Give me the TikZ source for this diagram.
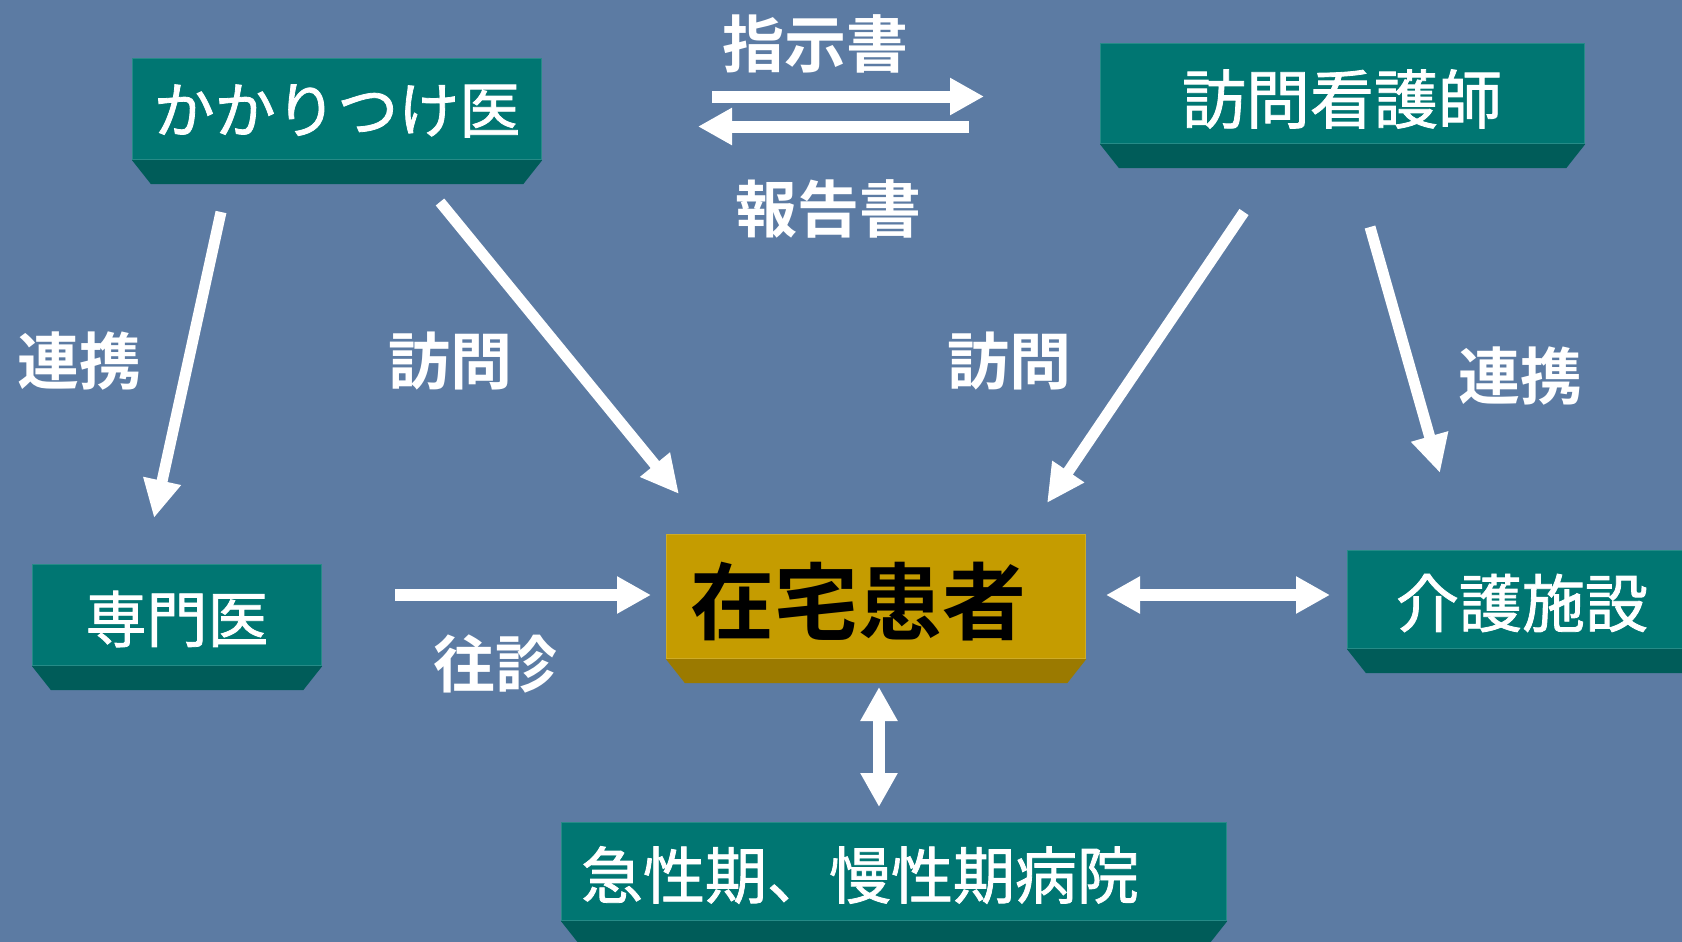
\documentclass[tikz,border=0pt]{standalone}
\usepackage{fontspec}
\newfontfamily\jp{Noto Sans CJK JP}[BoldFont={* Bold}]
\newfontfamily\jpm{Noto Sans CJK JP}[FakeBold=1.3]
\usetikzlibrary{arrows.meta,calc}
\definecolor{bg}{RGB}{92,123,163}
\definecolor{tealfront}{RGB}{0,118,114}
\definecolor{tealside}{RGB}{0,92,89}
\definecolor{goldfront}{RGB}{197,156,0}
\definecolor{goldside}{RGB}{155,122,0}
\tikzset{
  tealbox/.style={rectangle, fill=tealfront, draw=tealfront!85!white, line width=0.6pt, anchor=north west, inner sep=0pt},
  goldbox/.style={rectangle, fill=goldfront, draw=goldfront!85!white, line width=0.6pt, anchor=north west, inner sep=0pt},
  boxtext/.style={text=white, inner sep=0pt, font=\jpm\fontsize{30.5pt}{30.5pt}\selectfont},
  bigtext/.style={text=black, inner sep=0pt, font=\jp\bfseries\fontsize{42pt}{42pt}\selectfont},
  lbl/.style={text=white, inner sep=0pt, font=\jp\bfseries\fontsize{31pt}{31pt}\selectfont},
  warrow/.style={draw=white, line width=5.5pt, -{Triangle[length=19pt,width=18pt]}},
  wsarrow/.style={draw=white, line width=6pt, -{Triangle[length=17pt,width=17.5pt]}},
  wdarrow/.style={draw=white, line width=6pt, {Triangle[length=17pt,width=17.5pt]}-{Triangle[length=17pt,width=17.5pt]}}
}
\newcommand\bevelbox[2]{\fill[#2] (#1.south west) -- (#1.south east) -- ++(-19,24) -- ($(#1.south west)+(19,24)$) -- cycle;}
\begin{document}
\begin{tikzpicture}[x=0.5pt,y=-0.5pt]
\useasboundingbox (0,0) rectangle (1682,942);
\fill[bg] (0,0) rectangle (1682,942);

% boxes
\node[tealbox, minimum width=204.5pt, minimum height=50.5pt] (kakari) at (132,58) {};
\bevelbox{kakari}{tealside}
\node[tealbox, minimum width=242pt, minimum height=50pt] (houmon) at (1100,43) {};
\bevelbox{houmon}{tealside}
\node[tealbox, minimum width=144.5pt, minimum height=50.5pt] (senmon) at (32,564) {};
\bevelbox{senmon}{tealside}
\node[goldbox, minimum width=209.5pt, minimum height=62pt] (zaitaku) at (666,534) {};
\bevelbox{zaitaku}{goldside}
\node[tealbox, minimum width=176.5pt, minimum height=49pt] (kaigo) at (1347,550) {};
\bevelbox{kaigo}{tealside}
\node[tealbox, minimum width=332.5pt, minimum height=49pt] (kyusei) at (561,822) {};
\bevelbox{kyusei}{tealside}

% box texts
\node[boxtext] (t-kakari) at (337,111) {かかりつけ医};
\node[boxtext, font=\jpm\fontsize{32pt}{32pt}\selectfont] (t-houmon) at (1342,99) {訪問看護師};
\node[boxtext] (t-senmon) at (177,619) {専門医};
\node[bigtext] (t-zaitaku) at (858,602) {在宅患者};
\node[boxtext, font=\jpm\fontsize{31.5pt}{31.5pt}\selectfont] (t-kaigo) at (1522,603) {介護施設};
\node[boxtext, font=\jpm\fontsize{31pt}{31pt}\selectfont] (t-kyusei) at (860,875) {急性期、慢性期病院};

% labels
\node[lbl] (l-shiji) at (815,44) {指示書};
\node[lbl] (l-houkoku) at (828,209) {報告書};
\node[lbl] (l-renkei1) at (80,361) {連携};
\node[lbl] (l-houmon1) at (450,361) {訪問};
\node[lbl] (l-houmon2) at (1009,361) {訪問};
\node[lbl] (l-renkei2) at (1520,376) {連携};
\node[lbl] (l-oushin) at (495,664) {往診};

% arrow end points
\coordinate (a1s) at (712,96.5);
\coordinate (a1e) at (984,96.5);
\coordinate (a2s) at (969,126.5);
\coordinate (a2e) at (698,126.5);
\coordinate (a3s) at (221,212);
\coordinate (a3e) at (154,518);
\coordinate (a4s) at (440,202);
\coordinate (a4e) at (679,494);
\coordinate (a5s) at (1244,212);
\coordinate (a5e) at (1047,503);
\coordinate (a6s) at (1370,227);
\coordinate (a6e) at (1440,473);
\coordinate (a7s) at (395,595);
\coordinate (a7e) at (651,595);
\coordinate (a8s) at (1106,595);
\coordinate (a8e) at (1330,595);
\coordinate (a9s) at (879,687);
\coordinate (a9e) at (879,807);

\draw[wsarrow] (a1s) -- (a1e);
\draw[wsarrow] (a2s) -- (a2e);
\draw[warrow] (a3s) -- (a3e);
\draw[warrow] (a4s) -- (a4e);
\draw[warrow] (a5s) -- (a5e);
\draw[warrow] (a6s) -- (a6e);
\draw[wsarrow] (a7s) -- (a7e);
\draw[wdarrow] (a8s) -- (a8e);
\draw[wdarrow] (a9s) -- (a9e);
\end{tikzpicture}
\end{document}
